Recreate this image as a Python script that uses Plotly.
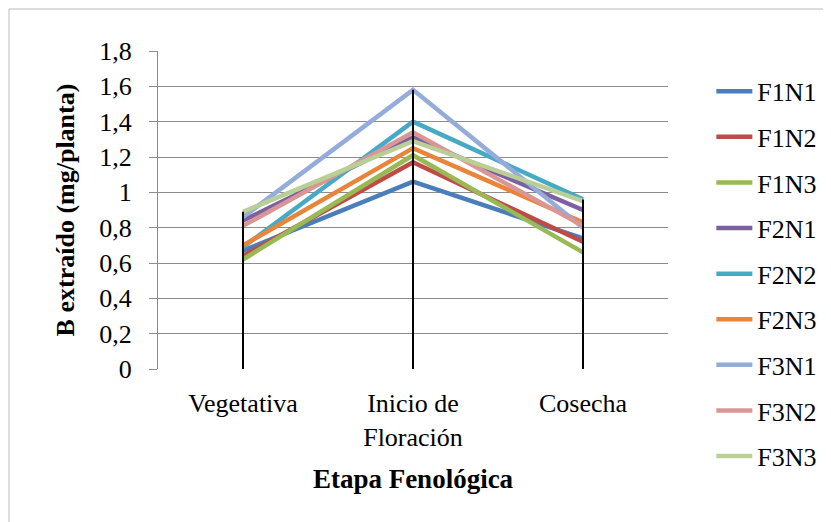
import plotly.graph_objects as go

# Boron extracted per plant at each phenological stage
STAGES = ["Vegetativa", "Inicio de<br>Floración", "Cosecha"]

F1N1 = [0.67, 1.06, 0.74]
F1N2 = [0.64, 1.17, 0.72]
F1N3 = [0.62, 1.21, 0.66]
F2N1 = [0.84, 1.31, 0.90]
F2N2 = [0.69, 1.40, 0.96]
F2N3 = [0.70, 1.25, 0.83]
F3N1 = [0.86, 1.58, 0.80]
F3N2 = [0.81, 1.34, 0.81]
F3N3 = [0.89, 1.29, 0.95]

SERIES = [
    ("F1N1", F1N1, "#4a7ebb"),
    ("F1N2", F1N2, "#be4b48"),
    ("F1N3", F1N3, "#98b954"),
    ("F2N1", F2N1, "#7d60a0"),
    ("F2N2", F2N2, "#46aac5"),
    ("F2N3", F2N3, "#e8853a"),
    ("F3N1", F3N1, "#95abd9"),
    ("F3N2", F3N2, "#d99694"),
    ("F3N3", F3N3, "#b9cf96"),
]

FONT = "Liberation Serif"

fig = go.Figure()

for name, vals, color in SERIES:
    fig.add_trace(go.Scatter(x=STAGES, y=vals, mode="lines", name=name,
                             legendgroup=name,
                             line=dict(color=color, width=4.5)))

# drop lines from the highest value of each stage down to the axis
tops = [max(s[1][i] for s in SERIES) for i in range(len(STAGES))]
drop_x, drop_y = [], []
for stage, top in zip(STAGES, tops):
    drop_x += [stage, stage, None]
    drop_y += [0, top, None]
fig.add_trace(go.Scatter(x=drop_x, y=drop_y, mode="lines", showlegend=False,
                         line=dict(color="black", width=2), hoverinfo="skip"))

fig.update_layout(
    width=831, height=522,
    margin=dict(l=150, r=171, t=43, b=161),
    paper_bgcolor="white", plot_bgcolor="white",
    font=dict(family=FONT, size=25, color="black"),
    separators=",.",
    legend=dict(x=1.085, y=0.947, xanchor="left", yanchor="top",
                font=dict(family=FONT, size=26, color="black"),
                tracegroupgap=8.8, maxheight=600, itemwidth=36,
                bgcolor="rgba(0,0,0,0)"),
    shapes=[dict(type="rect", xref="paper", yref="paper",
                 x0=-149/510, x1=1 + 170/510, y0=-160/318, y1=1 + 42/318,
                 line=dict(color="#bbbbbb", width=1))],
)

fig.update_xaxes(range=[-0.5, 2.5], showgrid=False, showline=False, zeroline=False,
                 ticks="outside", ticklen=11, tickcolor="rgba(0,0,0,0)",
                 tickfont=dict(family=FONT, size=26, color="black"),
                 title=dict(text="<b>Etapa Fenológica</b>", standoff=18,
                            font=dict(family=FONT, size=27, color="black")))
fig.update_yaxes(range=[0, 1.8], dtick=0.2, showgrid=True, gridcolor="#8c8c8c",
                 gridwidth=1.3, zeroline=False, showline=True, linecolor="#8c8c8c",
                 linewidth=1.3, ticks="outside", ticklen=8, tickcolor="#8c8c8c",
                 ticklabelstandoff=12,
                 tickfont=dict(family=FONT, size=26, color="black"),
                 title=dict(text="<b>B extraído (mg/planta)</b>", standoff=17,
                            font=dict(family=FONT, size=26, color="black")))

fig.write_html("out.html")
